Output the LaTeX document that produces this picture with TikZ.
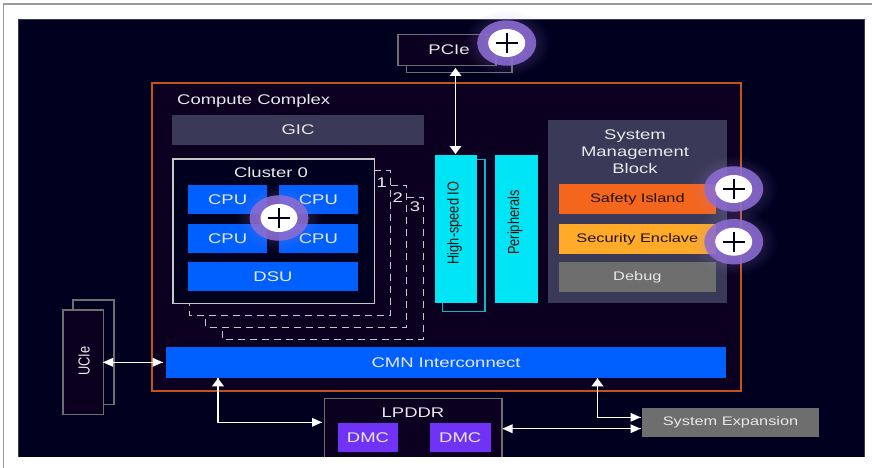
\documentclass[tikz,border=0pt]{standalone}
\usepackage{fontspec}
\setmainfont[FakeStretch=1.32]{Liberation Sans}
\newfontfamily\rotfont[FakeStretch=0.8]{Liberation Sans}
\usetikzlibrary{arrows.meta,fadings}
\definecolor{panel}{HTML}{00001F}
\definecolor{inner}{HTML}{0B0020}
\definecolor{cmplx}{HTML}{C4521F}
\definecolor{blueb}{HTML}{005FFF}
\definecolor{cyanb}{HTML}{00E5F5}
\definecolor{tealb}{HTML}{10B4C8}
\definecolor{slateb}{HTML}{3A3A58}
\definecolor{grayb}{HTML}{6E6E6E}
\definecolor{orangeb}{HTML}{F4661C}
\definecolor{yellowb}{HTML}{FFAA28}
\definecolor{purpleb}{HTML}{7033F5}
\definecolor{ringc}{HTML}{8C6CD2}
\definecolor{txt}{HTML}{E8E8E8}
\definecolor{dark}{HTML}{20120A}
\tikzset{
  lbl/.style={font=\fontsize{14}{16.7}\selectfont,text=txt,inner sep=0pt,align=center},
  box/.style={minimum width=#1,inner sep=0pt,outer sep=0pt,font=\fontsize{14}{16}\selectfont,text=txt,align=center,anchor=north west},
  smalltext/.style={font=\fontsize{12.4}{16}\selectfont},
  ghost/.style={draw=#1,line width=1.2pt},
  frameb/.style={draw=grayb,line width=1.2pt,fill=inner,inner sep=0pt,anchor=north west},
  rotl/.style={font=\rotfont\fontsize{#1}{18}\selectfont,rotate=90,inner sep=0pt},
  dashb/.style={draw=white!78!black,line width=0.9pt,dash pattern=on 7pt off 5pt},
  vconn/.style={draw=white,line width=1.8pt},
  hconn/.style={draw=white,line width=1.5pt},
}
\tikzfading[name=glowfade,inner color=transparent!55,outer color=transparent!100]
\newcommand{\plusbtn}[2]{%
  \begin{scope}[shift={(#1,#2)}]
  \fill[ringc!80!white,path fading=glowfade] (0,0) ellipse[x radius=44,y radius=34];
  \fill[ringc,fill opacity=.88] (0,0) ellipse[x radius=29.5,y radius=22.7];
  \fill[white] (0,0) ellipse[x radius=18.5,y radius=14];
  \draw[panel,line width=1.6pt] (-11,0) -- (11,0) (0,-10) -- (0,10);
  \end{scope}}
\newcommand{\uphead}[2]{\fill[white] (#1,#2) -- ++(6,8) -- ++(-12,0) -- cycle;}
\newcommand{\dnhead}[2]{\fill[white] (#1,#2) -- ++(6,-8) -- ++(-12,0) -- cycle;}
\newcommand{\rthead}[2]{\fill[white] (#1,#2) -- ++(-10,-4.5) -- ++(0,9) -- cycle;}
\newcommand{\lfhead}[2]{\fill[white] (#1,#2) -- ++(10,-4.5) -- ++(0,9) -- cycle;}
\begin{document}
\begin{tikzpicture}[x=1pt,y=-1pt]
\useasboundingbox (0,0) rectangle (872,468);
\fill[white] (0,0) rectangle (872,468);
\draw[gray!80,line width=1.2pt] (3.5,468) -- (3.5,4) -- (872,4);
\fill[panel] (18.3,19.3) rectangle (864.7,457.2);
\draw[slateb,line width=.5pt] (18.3,457.2) -- (18.3,19.3) -- (864.7,19.3) -- (864.7,457.2);
% compute complex
\node[draw=cmplx,line width=1.8pt,fill=inner,minimum width=589pt,minimum height=308pt,inner sep=0pt,anchor=north west] (cc) at (151,82) {};
\node[lbl,anchor=west] (cct) at (177,101) {Compute Complex};
\node[fill=slateb,box=252pt,minimum height=30pt] (gic) at (172,115) {GIC};
% dashed clusters
\draw[dashb] (373.7,170.7) -- (390.7,170.7) -- (390.7,315) -- (189,315) -- (189,303);
\draw[dashb] (390.7,185) -- (406.7,185) -- (406.7,327) -- (205.7,327) -- (205.7,315);
\draw[dashb] (406.7,197) -- (423,197) -- (423,339) -- (222,339) -- (222,327);
\node[lbl] (n1) at (381.7,183) {1};
\node[lbl] (n2) at (397.7,197.7) {2};
\node[lbl] (n3) at (415,207) {3};
% cluster
\node[draw=white!78!black,line width=1.2pt,fill=panel,minimum width=201.4pt,minimum height=144.7pt,inner sep=0pt,anchor=north west] (cl) at (172.3,158.3) {};
\node[lbl] (clt) at (271,172) {Cluster 0};
\node[fill=blueb,box=78.7pt,minimum height=29pt] (c1) at (188.3,185.3) {CPU};
\node[fill=blueb,box=78.7pt,minimum height=29pt] (c2) at (279,185.3) {CPU};
\node[fill=blueb,box=78.7pt,minimum height=29pt] (c3) at (188.3,223.7) {CPU};
\node[fill=blueb,box=78.7pt,minimum height=29pt] (c4) at (279,223.7) {CPU};
\node[fill=blueb,box=169.4pt,minimum height=29pt] (dsu) at (188.3,262) {DSU};
% high-speed
\draw[draw=tealb,line width=1.1pt] (442.3,159.3) rectangle (485,311.7);
\node[fill=cyanb,minimum width=42.4pt,minimum height=147.7pt,inner sep=0pt,anchor=north west] (hs) at (434.3,155) {};
\node[rotl=16,text=dark] (hst) at (454.5,223) {High-speed IO};
\node[fill=cyanb,minimum width=42.3pt,minimum height=147.7pt,inner sep=0pt,anchor=north west] (pe) at (495,155) {};
\node[rotl=16,text=dark] (pet) at (515,222.5) {Peripherals};
% SMB
\node[fill=slateb,minimum width=179.7pt,minimum height=182.7pt,inner sep=0pt,anchor=north west] (smb) at (547.3,120) {};
\node[lbl] (smbt) at (635,151.7) {System\\Management\\Block};
\node[fill=orangeb,box=157.3pt,minimum height=30pt,text=dark,smalltext] (si) at (558.7,184.3) {Safety Island};
\node[fill=yellowb,box=157.3pt,minimum height=30.3pt,text=dark,smalltext] (se) at (558.7,223.7) {Security Enclave};
\node[fill=grayb,box=157.3pt,minimum height=29.7pt,smalltext] (db) at (558.7,262.3) {Debug};
% CMN
\node[fill=blueb,box=560pt,minimum height=30.4pt] (cmn) at (166,347.3) {CMN Interconnect};
% PCIe
\draw[ghost=grayb] (406.7,40) rectangle (512,72.5);
\node[frameb,minimum width=98pt,minimum height=31pt] (pcie) at (397.3,34) {};
\node[lbl] (pciet) at (449,50) {PCIe};
% UCIe
\draw[ghost=grayb] (73,300) rectangle (114,404.3);
\node[frameb,minimum width=40.7pt,minimum height=104.4pt] (ucie) at (62.3,309.3) {};
\node[rotl=16,text=txt] (uciet) at (84,361) {UCIe};
% LPDDR
\fill[inner] (324.4,398.3) rectangle (502,457);
\draw[grayb,line width=1.2pt] (324.4,457) -- (324.4,398.3) -- (502,398.3) -- (502,457);
\coordinate (lpw) at (322,422.3);
\coordinate (lpe) at (502.5,428.7);
\node[lbl] (lp) at (413,412.3) {LPDDR};
\node[fill=purpleb,box=60pt,minimum height=29pt] (d1n) at (338,422.7) {DMC};
\node[fill=purpleb,box=60.5pt,minimum height=29pt] (d2n) at (430,422.7) {DMC};
% system expansion
\node[fill=grayb,box=176.5pt,minimum height=29.6pt,smalltext] (sx) at (642.3,407.7) {System Expansion};
% connectors
\coordinate (pcieb) at (455.5,68);
\coordinate (hstop) at (455.5,154);
\draw[vconn] (pcieb) -- (hstop);
\uphead{455.5}{68}\dnhead{455.5}{154}
\coordinate (uce) at (103,362.3);
\coordinate (cmw) at (162.7,362.3);
\draw[hconn] (uce) -- (cmw);
\lfhead{103}{362.3}\rthead{162.7}{362.3}
\coordinate (cma) at (218,378.3);
\draw[vconn] (cma) -- (218,422.3);
\draw[hconn] (217.1,422.3) -- (lpw);
\uphead{218}{378.3}\rthead{322}{422.3}
\coordinate (cmb) at (597.5,378.3);
\coordinate (sxa) at (640.5,417.3);
\coordinate (sxb) at (640.5,428.7);
\draw[vconn] (cmb) -- (597.5,417.3);
\draw[hconn] (596.6,417.3) -- (sxa);
\uphead{597.5}{378.3}\rthead{640.5}{417.3}
\draw[hconn] (lpe) -- (sxb);
\lfhead{502.5}{428.7}\rthead{640.5}{428.7}
% plus buttons
\plusbtn{506.7}{43}
\plusbtn{279}{218}
\plusbtn{733.7}{189}
\plusbtn{733.7}{241.7}
\end{tikzpicture}
\end{document}
